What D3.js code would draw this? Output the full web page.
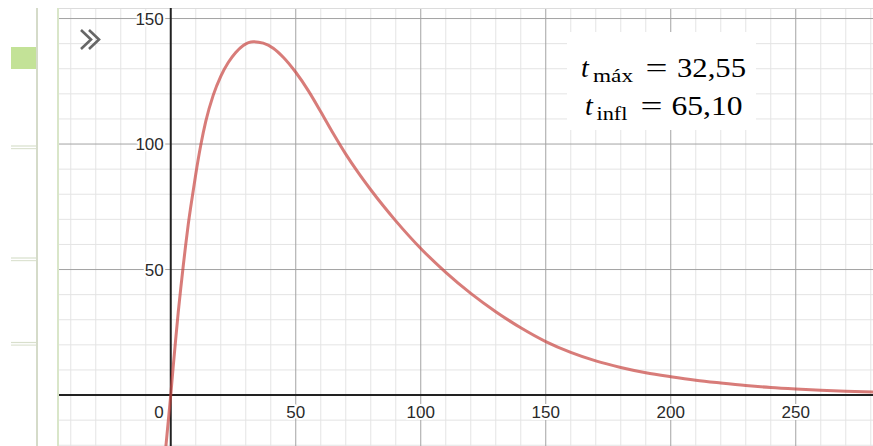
<!DOCTYPE html>
<html>
<head>
<meta charset="utf-8">
<script src="https://cdn.jsdelivr.net/npm/d3@7"></script>
<style>
  html, body { margin: 0; padding: 0; background: #fff; }
  svg { display: block; }
</style>
</head>
<body>
<div id="vis"></div>
<script>
// valores (t, v)
const tValues = [-2, 0, 1, 2, 3, 4, 5, 6, 7, 8, 10, 12, 14, 17, 20, 23, 26, 29, 33, 37, 41, 45, 50, 55, 60, 65, 70, 75, 80, 85, 90, 100, 110, 120, 130, 140, 150, 160, 170, 180, 190, 200, 210, 220, 230, 240, 250, 260, 270, 282];
const vValues = [-21, 0, 11.5, 22.5, 33, 42.5, 51.5, 60, 68, 75, 88, 99.5, 109, 119.5, 127, 132.5, 136.5, 139.3, 140.8, 140.2, 138.2, 134.6, 128.6, 121.3, 112.9, 104.2, 96, 88.6, 81.8, 75.4, 69.4, 58.4, 48.9, 40.5, 33.2, 26.8, 21.3, 17, 13.6, 11, 8.9, 7.3, 5.9, 4.8, 3.8, 3.0, 2.4, 1.9, 1.5, 1.2];

const xTickLabels = [50, 100, 150, 200, 250];
const yTickLabels = [50, 100, 150];
const annotation = [
  { sub: "máx", value: "32,55" },
  { sub: "infl", value: "65,10" }
];

const width = 873;
const height = 446;

const plotLeft = 59;
const plotTop = 8;

const x = d3.scaleLinear().domain([-44.7, 280.9]).range([plotLeft, width]);
const y = d3.scaleLinear().domain([-20.3, 154.2]).range([height, plotTop]);

const svg = d3.select("#vis")
  .append("svg")
  .attr("width", width)
  .attr("height", height);

// panel lateral
const side = svg.append("g");
side.append("line")
  .attr("x1", 37).attr("x2", 37).attr("y1", plotTop).attr("y2", height)
  .style("stroke", "#d5dbc9").style("stroke-width", 2);
side.append("rect")
  .attr("x", 11).attr("y", 47).attr("width", 25).attr("height", 22)
  .style("fill", "#c3e297");
[146, 258, 342.5].forEach((yy) => {
  side.append("line")
    .attr("x1", 11).attr("x2", 36).attr("y1", yy).attr("y2", yy)
    .style("stroke", "#d8dfcc").style("stroke-width", 1.2);
  side.append("line")
    .attr("x1", 11).attr("x2", 36).attr("y1", yy + 2.6).attr("y2", yy + 2.6)
    .style("stroke", "#dde3d2").style("stroke-width", 1.2);
});

svg.append("clipPath").attr("id", "clip")
  .append("rect")
  .attr("x", plotLeft).attr("y", plotTop)
  .attr("width", width - plotLeft).attr("height", height - plotTop);

const plot = svg.append("g").attr("clip-path", "url(#clip)");

// cuadrícula
const minorX = d3.range(-40, 290, 10).filter((d) => d % 50 !== 0);
const minorY = d3.range(-20, 160, 10).filter((d) => d % 50 !== 0);
const majorX = d3.range(-50, 300, 50).filter((d) => d !== 0);
const majorY = d3.range(-50, 200, 50).filter((d) => d !== 0);

plot.selectAll("line.minorx").data(minorX).enter().append("line")
  .attr("x1", (d) => x(d)).attr("x2", (d) => x(d))
  .attr("y1", plotTop).attr("y2", height)
  .style("stroke", "#e4e4e4").style("stroke-width", 1);
plot.selectAll("line.minory").data(minorY).enter().append("line")
  .attr("y1", (d) => y(d)).attr("y2", (d) => y(d))
  .attr("x1", plotLeft).attr("x2", width)
  .style("stroke", "#e4e4e4").style("stroke-width", 1);
plot.selectAll("line.majorx").data(majorX).enter().append("line")
  .attr("x1", (d) => x(d)).attr("x2", (d) => x(d))
  .attr("y1", plotTop).attr("y2", height)
  .style("stroke", "#a3a3a3").style("stroke-width", 1);
plot.selectAll("line.majory").data(majorY).enter().append("line")
  .attr("y1", (d) => y(d)).attr("y2", (d) => y(d))
  .attr("x1", plotLeft).attr("x2", width)
  .style("stroke", "#a3a3a3").style("stroke-width", 1);

// borde superior
plot.append("line")
  .attr("x1", plotLeft).attr("x2", width).attr("y1", plotTop + 0.5).attr("y2", plotTop + 0.5)
  .style("stroke", "#dcdcdc").style("stroke-width", 1);

// etiquetas con halo blanco
const labelStyle = (sel) => sel
  .style("font-family", "'Liberation Sans', Arial, sans-serif")
  .style("font-size", "17px")
  .style("fill", "#2a2a2a")
  .style("stroke", "#fff")
  .style("stroke-width", 4)
  .style("paint-order", "stroke")
  .style("stroke-linejoin", "round");

// ejes
plot.append("line")
  .attr("x1", plotLeft).attr("x2", width).attr("y1", y(0)).attr("y2", y(0))
  .style("stroke", "#222").style("stroke-width", 2);
plot.append("line")
  .attr("x1", x(0)).attr("x2", x(0)).attr("y1", plotTop).attr("y2", height)
  .style("stroke", "#222").style("stroke-width", 2);

plot.selectAll("text.xl").data(xTickLabels).enter().append("text")
  .attr("x", (d) => x(d)).attr("y", y(0) + 23)
  .attr("text-anchor", "middle")
  .text((d) => d)
  .call(labelStyle);
plot.selectAll("text.yl").data(yTickLabels).enter().append("text")
  .attr("x", x(0) - 7).attr("y", (d) => y(d) + 6)
  .attr("text-anchor", "end")
  .text((d) => d)
  .call(labelStyle);
plot.append("text")
  .attr("x", x(0) - 7).attr("y", y(0) + 23)
  .attr("text-anchor", "end")
  .text("0")
  .call(labelStyle);

// curva
const line = d3.line()
  .x((d, i) => x(tValues[i]))
  .y((d) => y(d))
  .curve(d3.curveMonotoneX);

plot.append("path")
  .datum(vValues)
  .attr("d", line)
  .style("fill", "none")
  .style("stroke", "#c74440")
  .style("stroke-opacity", 0.7)
  .style("stroke-width", 3);

// borde izquierdo del gráfico
svg.append("line")
  .attr("x1", 58).attr("x2", 58).attr("y1", plotTop).attr("y2", height)
  .style("stroke", "#d9e6c9").style("stroke-width", 2);

// icono »
svg.append("path")
  .attr("d", "M81,30 L91,39.5 L81,49 M89,30 L99,39.5 L89,49")
  .style("fill", "none")
  .style("stroke", "#666")
  .style("stroke-width", 2.6);

// caja de texto
svg.append("rect")
  .attr("x", 567).attr("y", 32).attr("width", 189).attr("height", 98)
  .style("fill", "#fff");

const serif = "'Liberation Serif', 'Times New Roman', serif";
const rows = [
  { tx: 581, sx: 593, sw: 40, ex: 645.5, vx: 677, vw: 69, base: 77 },
  { tx: 585, sx: 596.5, sw: 31, ex: 640.5, vx: 671.5, vw: 71, base: 114.5 }
];
annotation.forEach((a, i) => {
  const r = rows[i];
  svg.append("text").attr("x", r.tx).attr("y", r.base)
    .style("font-family", serif).style("font-style", "italic").style("font-size", "28px")
    .text("t");
  svg.append("text").attr("x", r.sx).attr("y", r.base + 5)
    .attr("textLength", r.sw).attr("lengthAdjust", "spacingAndGlyphs")
    .style("font-family", serif).style("font-size", "19px")
    .text(a.sub);
  svg.append("text").attr("x", r.ex).attr("y", r.base)
    .attr("textLength", 22).attr("lengthAdjust", "spacingAndGlyphs")
    .style("font-family", serif).style("font-size", "27px")
    .text("=");
  svg.append("text").attr("x", r.vx).attr("y", r.base)
    .attr("textLength", r.vw).attr("lengthAdjust", "spacingAndGlyphs")
    .style("font-family", serif).style("font-size", "27px")
    .text(a.value);
});
</script>
</body>
</html>
